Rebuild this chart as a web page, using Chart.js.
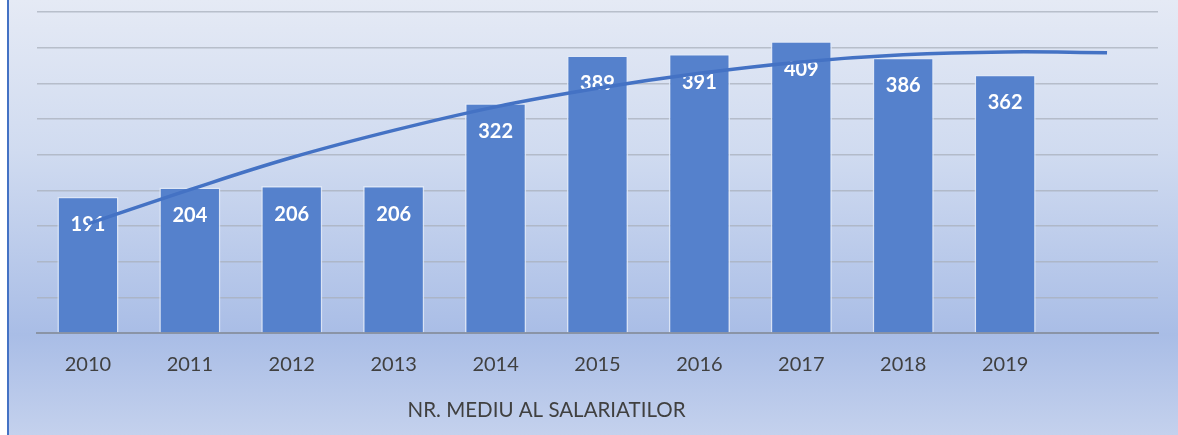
<!DOCTYPE html>
<html>
<head>
<meta charset="utf-8">
<script src="https://cdn.jsdelivr.net/npm/chart.js@4/dist/chart.umd.min.js"></script>
<style>
  html, body { margin: 0; padding: 0; background: #fff; }
  body { width: 1178px; height: 435px; position: relative; overflow: hidden; }
  #frame {
    position: absolute; left: 7px; top: 0; width: 1169px; height: 435px;
    border-left: 2px solid #4472c4;
    background: linear-gradient(to bottom, #e5eaf5 0%, #d0dbf0 35%, #a9bde6 77%, #c4d1ed 100%);
  }
</style>
</head>
<body>
<div id="frame"><canvas id="chart"></canvas></div>
<script>
// Average employee count per year, with Excel-style poly trendline
const years = ['2010', '2011', '2012', '2013', '2014', '2015', '2016', '2017', '2018', '2019', ''];
const employees = [191, 204, 206, 206, 322, 389, 391, 409, 386, 362];
const trend = [153, 201, 246, 284, 317, 343, 364, 380, 390, 394, 393];
const yMax = 450;
const yStep = 50;
const axisTitle = 'NR. MEDIU AL SALARIATILOR';

const FONT = 'Lato, "Open Sans", sans-serif';
const TEXT = '#404040';

// value labels inside the bars, drawn before the trend line
const barLabels = {
  id: 'barLabels',
  afterDatasetDraw(chart, args) {
    if (args.index !== 0) return;
    const ctx = chart.ctx;
    ctx.save();
    ctx.fillStyle = '#ffffff';
    ctx.font = 'bold 20px ' + FONT;
    ctx.textAlign = 'center';
    ctx.textBaseline = 'middle';
    args.meta.data.forEach((bar, i) => {
      ctx.fillText(String(employees[i]), bar.x, bar.y + 28);
    });
    ctx.restore();
  }
};

// category axis title, centred under the real years only
const bottomTitle = {
  id: 'bottomTitle',
  afterDraw(chart) {
    const x = chart.scales.x;
    const cx = (x.getPixelForValue(0) + x.getPixelForValue(employees.length - 1)) / 2;
    const ctx = chart.ctx;
    ctx.save();
    ctx.fillStyle = TEXT;
    ctx.font = '20.5px ' + FONT;
    ctx.textAlign = 'center';
    ctx.textBaseline = 'middle';
    ctx.fillText(axisTitle, cx, 410);
    ctx.restore();
  }
};

new Chart(document.getElementById('chart'), {
  type: 'bar',
  data: {
    labels: years,
    datasets: [
      {
        label: 'Nr. mediu',
        data: employees,
        backgroundColor: '#5581cc',
        borderColor: 'rgba(225,233,247,0.85)',
        borderWidth: 1.5,
        barPercentage: 0.6,
        categoryPercentage: 1,
        order: 1
      },
      {
        type: 'line',
        label: 'Trend',
        data: trend,
        borderColor: '#4472c4',
        borderWidth: 3.5,
        pointRadius: 0,
        tension: 0.4,
        fill: false,
        order: 0
      }
    ]
  },
  options: {
    responsive: true,
    maintainAspectRatio: false,
    animation: false,
    layout: { padding: { left: 28, right: 20, top: 12, bottom: 0 } },
    plugins: { legend: { display: false }, tooltip: { enabled: false } },
    scales: {
      x: {
        grid: { display: false },
        border: { display: true, color: '#8a94a6', width: 2 },
        ticks: { color: TEXT, font: { family: FONT, size: 20 }, padding: 12 },
        afterFit: s => { s.height = 102; }
      },
      y: {
        min: 0, max: yMax,
        ticks: { display: false, stepSize: yStep },
        grid: { color: 'rgba(170,176,188,0.75)', lineWidth: 1.5, drawTicks: false },
        border: { display: false },
        afterFit: s => { s.width = 0; }
      }
    }
  },
  plugins: [barLabels, bottomTitle]
});
</script>
</body>
</html>
